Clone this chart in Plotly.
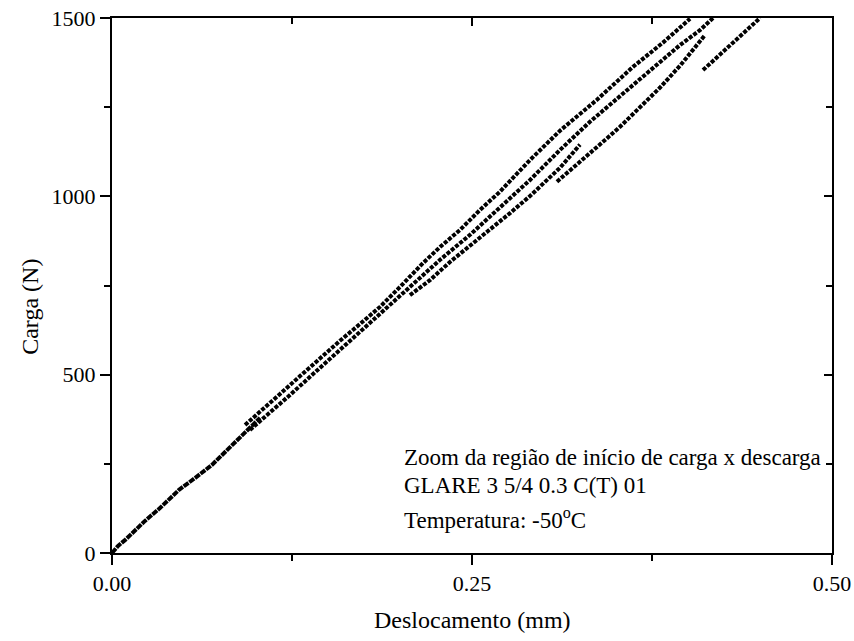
import plotly.graph_objects as go

# ---------------- data ----------------
x_tickvals = [0.0, 0.25, 0.5]
x_ticktext = ["0.00", "0.25", "0.50"]
y_tickvals = [0, 500, 1000, 1500]
y_ticktext = ["0", "500", "1000", "1500"]
x_minor = [0.125, 0.375]
y_minor = [250, 750, 1250]

# initial common loading trunk
trunk_x = [0.0, 0.0042, 0.0090, 0.0160, 0.0229, 0.0333, 0.0465, 0.0576, 0.0694, 0.0813, 0.0924, 0.1028]
trunk_y = [0, 20, 36, 64, 90, 126, 177, 210, 247, 294, 339, 379]

# upper (left-most) loading branch
a_x = [0.0924, 0.1028, 0.1167, 0.1306, 0.1444, 0.1583, 0.1722, 0.1861, 0.2000, 0.2160, 0.2278,
       0.2417, 0.2556, 0.2694, 0.2903, 0.3111, 0.3368, 0.3618, 0.3826, 0.4014]
a_y = [359, 395, 446, 496, 547, 595, 642, 690, 746, 813, 858,
       906, 962, 1013, 1102, 1184, 1271, 1363, 1431, 1498]

# second branch
b_x = [0.0958, 0.1097, 0.1236, 0.1375, 0.1514, 0.1653, 0.1792, 0.1931, 0.2069, 0.2278, 0.2486,
       0.2694, 0.2903, 0.3111, 0.3319, 0.3528, 0.3736, 0.3944, 0.4083, 0.4174]
b_y = [345, 393, 443, 494, 544, 595, 645, 696, 746, 822, 892,
       967, 1046, 1130, 1209, 1281, 1354, 1424, 1466, 1500]

# third branch (starts after unloading at ~720 N)
c_x = [0.2069, 0.2208, 0.2347, 0.2486, 0.2625, 0.2764, 0.2903, 0.3007, 0.3111, 0.3250]
c_y = [723, 765, 816, 861, 906, 953, 1001, 1041, 1080, 1145]

# fourth branch (starts at ~1040 N)
d_x = [0.3090, 0.3146, 0.3215, 0.3319, 0.3424, 0.3528, 0.3667, 0.3806, 0.3944, 0.4049, 0.4118]
d_y = [1041, 1060, 1085, 1122, 1158, 1195, 1249, 1305, 1366, 1416, 1452]

# last branch (starts at ~1355 N)
e_x = [0.4104, 0.4167, 0.4222, 0.4292, 0.4361, 0.4431, 0.4500]
e_y = [1354, 1377, 1396, 1422, 1447, 1473, 1500]

series = [(trunk_x, trunk_y), (a_x, a_y), (b_x, b_y), (c_x, c_y), (d_x, d_y), (e_x, e_y)]

FONT = "Liberation Serif, Times New Roman, serif"

fig = go.Figure()
for i, (sx, sy) in enumerate(series):
    fig.add_trace(go.Scatter(
        x=sx, y=sy, mode="lines",
        line=dict(color="black", width=4, dash="4px,1.5px" if i else "6px,1px"),
        showlegend=False, hoverinfo="skip",
    ))

# empty trace to activate mirrored (top / right) axes
fig.add_trace(go.Scatter(x=[], y=[], xaxis="x2", yaxis="y2", showlegend=False, hoverinfo="skip"))

axis_common = dict(showgrid=False, zeroline=False, showline=True, linecolor="black",
                   linewidth=2, tickcolor="black", tickwidth=2, automargin=False)

fig.update_layout(
    width=854, height=641,
    margin=dict(l=112, r=22, t=18, b=88, autoexpand=False),
    paper_bgcolor="white", plot_bgcolor="white",
    font=dict(family=FONT, size=22, color="black"),
    xaxis=dict(range=[0, 0.5], tickmode="array", tickvals=x_tickvals, ticktext=x_ticktext,
               ticks="outside", ticklen=10,
               minor=dict(tickmode="array", tickvals=x_minor, ticks="outside", ticklen=6,
                          tickwidth=2, tickcolor="black"),
               tickfont=dict(family=FONT, size=22), **axis_common),
    yaxis=dict(range=[0, 1500], tickmode="array", tickvals=y_tickvals, ticktext=y_ticktext,
               ticks="outside", ticklen=10,
               minor=dict(tickmode="array", tickvals=y_minor, ticks="outside", ticklen=6,
                          tickwidth=2, tickcolor="black"),
               tickfont=dict(family=FONT, size=22), **axis_common),
    xaxis2=dict(range=[0, 0.5], overlaying="x", side="top", anchor="y",
                tickmode="array", tickvals=x_tickvals, ticks="inside", ticklen=8,
                showticklabels=False,
                minor=dict(tickmode="array", tickvals=x_minor, ticks="inside", ticklen=6,
                           tickwidth=2, tickcolor="black"),
                **axis_common),
    yaxis2=dict(range=[0, 1500], overlaying="y", side="right", anchor="x",
                tickmode="array", tickvals=y_tickvals, ticks="inside", ticklen=8,
                showticklabels=False,
                minor=dict(tickmode="array", tickvals=y_minor, ticks="inside", ticklen=6,
                           tickwidth=2, tickcolor="black"),
                **axis_common),
)

fig.add_annotation(text="Deslocamento (mm)", xref="paper", yref="paper",
                   x=0.5, y=-0.125, xanchor="center", yanchor="middle",
                   showarrow=False, font=dict(family=FONT, size=24))
fig.add_annotation(text="Carga (N)", xref="paper", yref="paper",
                   x=-0.114, y=0.46, xanchor="center", yanchor="middle", textangle=-90,
                   showarrow=False, font=dict(family=FONT, size=24))

info_lines = ["Zoom da região de início de carga x descarga",
              "GLARE 3 5/4 0.3 C(T) 01",
              "Temperatura: -50<sup>o</sup>C"]
for txt, yy in zip(info_lines, [0.1776, 0.1271, 0.0654]):
    fig.add_annotation(text=txt, xref="x", yref="paper", x=0.2017, y=yy,
                       xanchor="left", yanchor="middle", showarrow=False,
                       font=dict(family=FONT, size=23))

fig.write_html("out.html")
